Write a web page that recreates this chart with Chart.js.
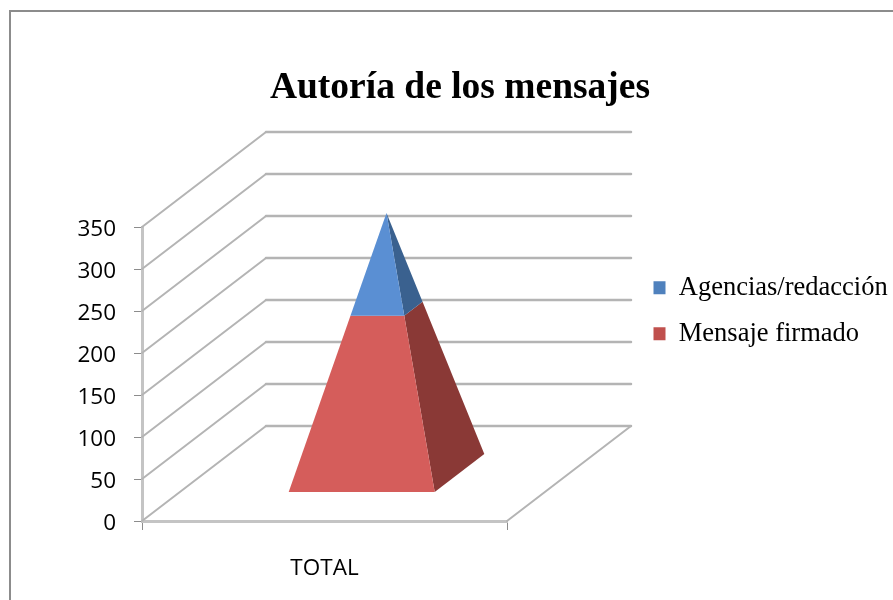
<!DOCTYPE html>
<html>
<head>
<meta charset="utf-8">
<title>Autoría de los mensajes</title>
<script src="https://cdn.jsdelivr.net/npm/chart.js@4"></script>
<style>
  html, body { margin: 0; padding: 0; background: #fff; }
  #wrap { position: relative; width: 893px; height: 600px; overflow: hidden; }
  #frame { position: absolute; left: 9px; top: 10px; right: -4px; bottom: -4px; border: 2px solid #8c8c8c; pointer-events: none; }
</style>
</head>
<body>
<div id="wrap">
  <canvas id="chart" width="893" height="600"></canvas>
  <div id="frame"></div>
</div>
<script>
const categories = ["TOTAL"];
const mensajeFirmado = [196];
const agencias = [114];
const seriesNames = ["Mensaje firmado", "Agencias/redacción"];

// depth of the fake 3D box, in pixels
const DEPTH_X = 124;
const DEPTH_Y = -95;
const BASE_DEPTH = 0.2;

const faces = [
  { front: "#d55d5b", side: "#8a3936" },
  { front: "#5a8fd3", side: "#3a618f" },
];

function fillPoly(ctx, points, color) {
  ctx.beginPath();
  points.forEach((p, i) => (i ? ctx.lineTo(p[0], p[1]) : ctx.moveTo(p[0], p[1])));
  ctx.closePath();
  ctx.fillStyle = color;
  ctx.fill();
}

const pyramid3d = {
  id: "pyramid3d",
  afterLayout(chart) {
    // title and legend sit outside the plot box
    chart.titleBlock.left = 27;
    chart.titleBlock.right = 893;
    const legend = chart.legend;
    const w = legend.width, h = legend.height;
    legend.left = 634;
    legend.right = 634 + w;
    legend.top = 255;
    legend.bottom = 255 + h;
    legend.adjustHitBoxes();
  },
  beforeDatasetsDraw(chart) {
    const ctx = chart.ctx;
    const { x: xScale, y: yScale } = chart.scales;

    // walls and floor
    ctx.save();
    ctx.lineCap = "round";
    yScale.ticks.forEach((tick) => {
      const y = yScale.getPixelForValue(tick.value);
      ctx.beginPath();
      ctx.moveTo(xScale.left, y);
      ctx.lineTo(xScale.left + DEPTH_X, y + DEPTH_Y);
      ctx.strokeStyle = "#b4b4b4";
      ctx.lineWidth = 2;
      ctx.stroke();
      ctx.beginPath();
      ctx.moveTo(xScale.left + DEPTH_X, y + DEPTH_Y);
      ctx.lineTo(xScale.right + DEPTH_X, y + DEPTH_Y);
      ctx.strokeStyle = "#b4b4b4";
      ctx.lineWidth = 2.5;
      ctx.stroke();
    });
    ctx.beginPath();
    ctx.moveTo(xScale.right, yScale.bottom);
    ctx.lineTo(xScale.right + DEPTH_X, yScale.bottom + DEPTH_Y);
    ctx.strokeStyle = "#b4b4b4";
    ctx.lineWidth = 2;
    ctx.stroke();
    ctx.restore();

    // pyramid, one slice per stacked bar
    const bars = chart.data.datasets.map((_, i) => chart.getDatasetMeta(i).data[0]);
    const floor = bars[0].base;
    const apex = bars[bars.length - 1].y;
    const corner = (side, depthSide, p) => {
      const shrink = 1 - (floor - p) / (floor - apex);
      const x = bars[0].x + (side * bars[0].width * shrink) / 2;
      const d = 0.5 + depthSide * BASE_DEPTH * shrink;
      return [x + DEPTH_X * d, p + DEPTH_Y * d];
    };
    bars.forEach((bar, i) => {
      const bottom = bar.base, top = bar.y;
      fillPoly(ctx, [corner(1, -1, bottom), corner(1, 1, bottom), corner(1, 1, top), corner(1, -1, top)], faces[i].side);
      fillPoly(ctx, [corner(-1, -1, bottom), corner(1, -1, bottom), corner(1, -1, top), corner(-1, -1, top)], faces[i].front);
    });
  },
  beforeDatasetDraw() {
    return false; // bars only give the geometry
  },
};

new Chart(document.getElementById("chart"), {
  type: "bar",
  data: {
    labels: categories,
    datasets: [
      { label: seriesNames[0], data: mensajeFirmado, backgroundColor: "#c0504d" },
      { label: seriesNames[1], data: agencias, backgroundColor: "#4f81bd" },
    ],
  },
  options: {
    responsive: false,
    animation: false,
    barPercentage: 0.4,
    categoryPercentage: 1,
    layout: { padding: { right: 386 } },
    scales: {
      x: {
        stacked: true,
        afterFit: (scale) => { scale.height = 79; },
        grid: { drawOnChartArea: false, tickLength: 9, color: "#8c8c8c", offset: true },
        border: { color: "#c4c4c4", width: 3 },
        ticks: { color: "#000", padding: 25, font: { family: "Open Sans", size: 22.5 } },
      },
      y: {
        stacked: true,
        min: 0,
        max: 350,
        afterFit: (scale) => { scale.width = 142; },
        grid: { drawOnChartArea: false, tickLength: 8, color: "#8c8c8c" },
        border: { color: "#c4c4c4", width: 3 },
        ticks: { stepSize: 50, color: "#000", padding: 18, labelOffset: 3, font: { family: "Open Sans", size: 22.5 } },
      },
    },
    plugins: {
      tooltip: { enabled: false },
      title: {
        display: true,
        text: "Autoría de los mensajes",
        color: "#000",
        font: { family: "Liberation Serif", size: 37.5, weight: "bold" },
        padding: { top: 66, bottom: 116 },
      },
      legend: {
        position: "chartArea",
        align: "start",
        reverse: true,
        labels: {
          color: "#000",
          boxWidth: 12,
          boxHeight: 13,
          padding: 19.5,
          font: { family: "Liberation Serif", size: 26.5 },
        },
      },
    },
  },
  plugins: [pyramid3d],
});
</script>
</body>
</html>
